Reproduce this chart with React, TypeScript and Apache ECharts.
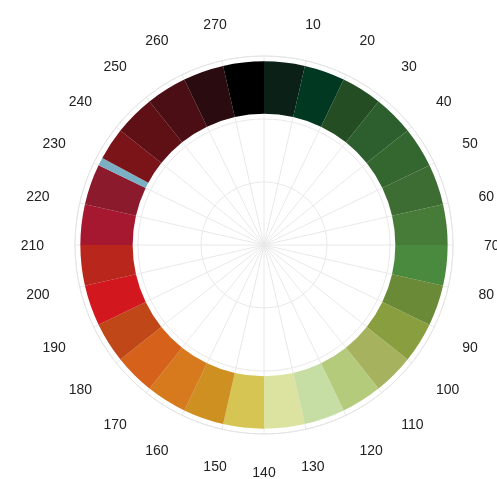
import React, { useEffect, useRef } from "react";
import * as echarts from "echarts";

// Angle axis (value) range and step
const angleMin = 0;
const angleMax = 280;
const angleStep = 10;

// Radius categories: the ring sits in the outermost band
const radiusCategories = ["inner", "middle", "ring"];

// Ring segments, in stacking order clockwise from the top
const segmentValues = [
  10, 10, 10, 10, 10, 10, 10, 10, 10, 10, 10, 10, 10, 10,
  10, 10, 10, 10, 10, 10, 10, 10, 10, 2, 8, 10, 10, 10, 10,
];
const segmentColors = [
  "#0b2016", "#003822", "#254d24", "#2d5e2d", "#34672f", "#3e6d33", "#467c38",
  "#4a8a3f", "#6b8a38", "#889e3f", "#a6b25d", "#b3cb7b", "#c6dea4", "#dce3a0",
  "#d6c453", "#cf9022", "#d77a1e", "#d5611a", "#c04818", "#d3171f", "#b8261c",
  "#a5182f", "#8c1a2d", "#7aafc4", "#7b1419", "#5e1015", "#4a0e14", "#2a0b0f",
  "#000000",
];

export default function App() {
  const ref = useRef<HTMLDivElement>(null);

  useEffect(() => {
    if (!ref.current) return;
    const chart = echarts.init(ref.current, undefined, { renderer: "svg" });
    const series = segmentValues.map((v, i) => ({
      type: "bar" as const,
      coordinateSystem: "polar",
      stack: "ring",
      barCategoryGap: "17%",
      silent: true,
      data: ["-", "-", v],
      itemStyle: { color: segmentColors[i] },
    }));
    chart.setOption({
      animation: false,
      polar: { center: [264, 245], radius: 189 },
      angleAxis: {
        type: "value",
        min: angleMin,
        max: angleMax,
        interval: angleStep,
        startAngle: 90,
        clockwise: true,
        axisLine: { show: true, lineStyle: { color: "#e4e4e4", width: 1 } },
        axisTick: { show: false },
        axisLabel: {
          margin: 31,
          color: "#222",
          fontSize: 14,
          fontFamily: "Liberation Sans, Arial, sans-serif",
          formatter: (v: number) => (v === angleMin ? "" : String(v)),
        },
        splitLine: { show: true, lineStyle: { color: "#e8e8e8", width: 1 } },
      },
      radiusAxis: {
        type: "category",
        data: radiusCategories,
        axisLine: { show: false },
        axisTick: { show: false },
        axisLabel: { show: false },
        splitLine: { show: true, lineStyle: { color: "#e8e8e8", width: 1 } },
      },
      series,
    });
    return () => chart.dispose();
  }, []);

  return (
    <div
      ref={ref}
      style={{ position: "fixed", left: 0, top: 0, width: 497, height: 479 }}
    />
  );
}
